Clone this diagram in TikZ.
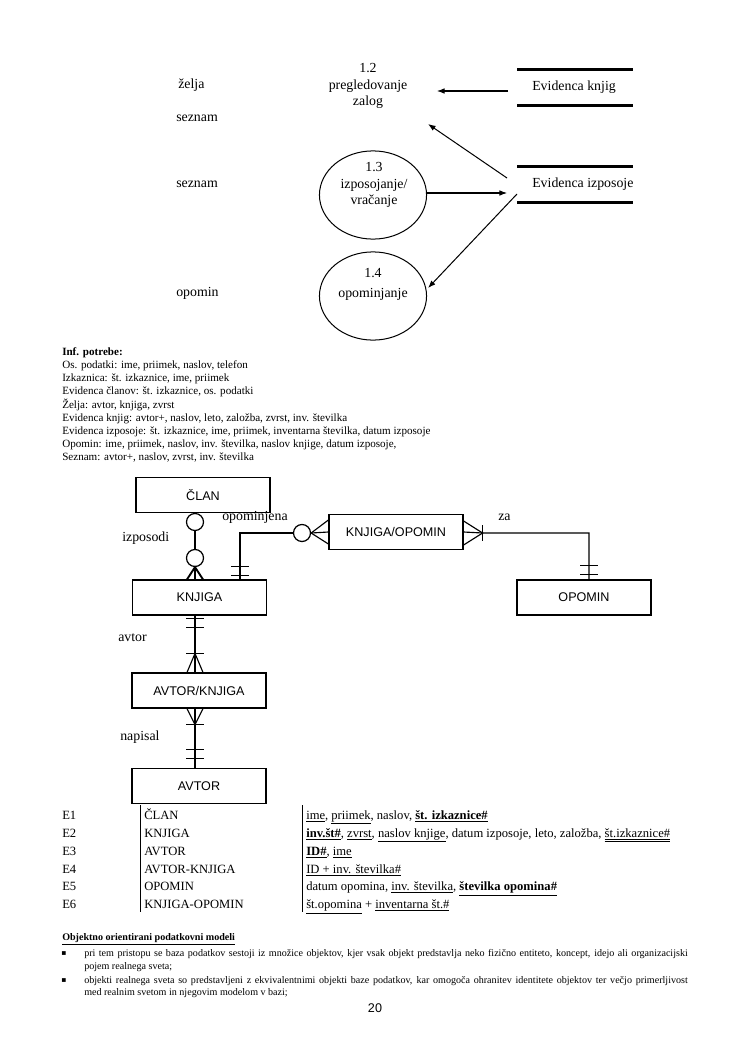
\documentclass[tikz,border=0pt]{standalone}
\usepackage{fontspec}
\setmainfont{Liberation Serif}
\setsansfont{Liberation Sans}
\newfontfamily\symfont{DejaVu Sans}
\usetikzlibrary{shapes.geometric,arrows.meta,calc}

\begin{document}
\begin{tikzpicture}[x=0.7937pt,y=-0.7937pt,
	every node/.style={inner sep=0pt},
	dfd/.style={font=\fontsize{11}{13}\selectfont,align=center},
	lbl/.style={font=\fontsize{11}{13}\selectfont,anchor=base west},
	proc/.style={ellipse,draw,line width=0.8pt,minimum width=85pt,minimum height=70pt},
	store/.style={anchor=west,minimum height=27.8pt,font=\fontsize{11}{13}\selectfont},
	storeline/.style={line width=2.4pt},
	flow/.style={line width=0.8pt,-{Latex[length=6pt,width=4.5pt]}},
	entity/.style={rectangle,draw,line width=0.9pt,minimum width=106.4pt,minimum height=27.8pt,font=\sffamily\fontsize{10}{12}\selectfont},
	optc/.style={circle,draw,line width=1pt,minimum size=13.5pt},
	rel/.style={line width=0.9pt},
	relthick/.style={line width=1.5pt},
	txt/.style={font=\fontsize{8.8}{10.4}\selectfont,anchor=base west},
	tbl/.style={font=\fontsize{10}{12}\selectfont,anchor=base west},
	btxt/.style={font=\fontsize{8}{10}\selectfont,anchor=base west}]

\useasboundingbox (0,0) rectangle (750,1061);

% data flow part
\node[lbl] (zelja) at (178,89) {želja};
\node[lbl] (sez1) at (176,121.5) {seznam};
\node[lbl] (sez2) at (176,187.5) {seznam};
\node[lbl] (opm) at (176,296.5) {opomin};

\node[dfd] (p12) at (368,86) {1.2\\pregledovanje\\zalog};
\node[proc] (p13) at (373,195) {};
\node[dfd] (p13t) at ($(p13)+(1,-10)$) {1.3\\izposojanje/\\vračanje};
\node[proc] (p14) at (373,296) {};
\node[dfd] (p14t) at ($(p14)+(0,-12)$) {1.4\\[3pt]opominjanje};

\node[store] (ek) at (532,87.5) {Evidenca knjig};
\draw[storeline] ($(ek.north west)+(-15,0)$) -- ++(116,0);
\draw[storeline] ($(ek.south west)+(-15,0)$) -- ++(116,0);
\node[store] (ei) at (532,184.5) {Evidenca izposoje};
\draw[storeline] ($(ei.north west)+(-15,0)$) -- ++(116,0);
\draw[storeline] ($(ei.south west)+(-15,0)$) -- ++(116,0);

\draw[flow] ($(ek.west)+(-24,3.5)$) -- ($(p12)+(69,5)$);
\draw[flow] ($(ei.west)+(-25,-6.5)$) -- ($(p12)+(60,38)$);
\draw[flow] ($(p13.east)+(0,-2)$) -- ($(ei.west)+(-25,8.5)$);
\draw[flow] ($(ei.west)+(-15,9.5)$) -- ($(p14.east)+(1,-8)$);

% information needs
\node[txt,align=left] (inf) at (62,460.5) {\textbf{Inf. potrebe:}\\
Os. podatki: ime, priimek, naslov, telefon\\
Izkaznica: št. izkaznice, ime, priimek\\
Evidenca članov: št. izkaznice, os. podatki\\
Želja: avtor, knjiga, zvrst\\
Evidenca knjig: avtor+, naslov, leto, založba, zvrst, inv. številka\\
Evidenca izposoje: št. izkaznice, ime, priimek, inventarna številka, datum izposoje\\
Opomin: ime, priimek, naslov, inv. številka, naslov knjige, datum izposoje,\\
Seznam: avtor+, naslov, zvrst, inv. številka};

% ER part
\node[entity,line width=1.3pt] (clan) at (203,495) {ČLAN};
\node[entity] (knjiga) at (199.5,597.5) {KNJIGA};
\node[entity] (knjop) at (396,532) {KNJIGA/OPOMIN};
\node[entity] (opomin) at (584,597.5) {OPOMIN};
\node[entity] (avknj) at (199,690.5) {AVTOR/KNJIGA};
\node[entity] (avtor) at (199,786) {AVTOR};

\node[optc] (o1) at (195,522) {};
\node[optc] (o2) at (195,558) {};
\node[optc] (o3) at (302,533) {};

\node[lbl] (izp) at (122,541) {izposodi};
\node[lbl] (opj) at (222,520) {opominjena};
\node[lbl] (za) at (498,520) {za};
\node[lbl] (avt) at (118,641) {avtor};
\node[lbl] (nap) at (120,740) {napisal};

% clan - knjiga
\draw[relthick] (o1.north |- clan.south) -- (o1.north);
\draw[relthick] (o1.south) -- (o2.north);
\draw[relthick] (o2.south) -- (o2.south |- knjiga.north);
\draw[relthick] ($(o2.south |- knjiga.north)+(-8,0)$) -- (o2.south) -- ($(o2.south |- knjiga.north)+(8,0)$);

% knjiga - knjiga/opomin - opomin
\coordinate (kk) at ($(knjiga.north)!0.6!(knjiga.north east)$);
\draw[rel] (kk) |- (o3.west);
\draw[rel] ($(kk)+(-9,-13)$) -- ++(18,0);
\draw[rel] ($(kk)+(-9,-4)$) -- ++(18,0);
\draw[rel] ($(knjop.west)+(0,-12)$) -- (o3.east) -- ($(knjop.west)+(0,12)$);
\draw[rel] (o3.east) -- (knjop.west);
\coordinate (kz) at ($(knjop.east)+(19,1)$);
\draw[rel] (knjop.east) -- (kz) -| ($(opomin.north)+(5,0)$);
\draw[rel] ($(knjop.east)+(0,-11)$) -- (kz) -- ($(knjop.east)+(0,13)$);
\draw[rel] ($(kz)+(0,-8)$) -- ++(0,16);
\draw[rel] ($(opomin.north)+(-4,-14)$) -- ++(18,0);
\draw[rel] ($(opomin.north)+(-4,-5)$) -- ++(18,0);

% knjiga - avtor/knjiga - avtor
\draw[relthick] ($(knjiga.south)+(-4.5,0)$) -- ($(avknj.north)+(-4,0)$);
\draw[rel] ($(knjiga.south)+(-13.5,3)$) -- ++(18,0);
\draw[rel] ($(knjiga.south)+(-13.5,12)$) -- ++(18,0);
\draw[rel] ($(avknj.north)+(-13,-19)$) -- ++(18,0);
\draw[rel] ($(avknj.north)+(-12,0)$) -- ($(avknj.north)+(-4,-19)$) -- ($(avknj.north)+(4,0)$);
\draw[relthick] ($(avknj.south)+(-4,0)$) -- ($(avtor.north)+(-4,0)$);
\draw[rel] ($(avknj.south)+(-12,0)$) -- ($(avknj.south)+(-4,16)$) -- ($(avknj.south)+(4,0)$);
\draw[rel] ($(avknj.south)+(-13,16)$) -- ++(18,0);
\draw[rel] ($(avtor.north)+(-13,-18)$) -- ++(18,0);
\draw[rel] ($(avtor.north)+(-13,-9)$) -- ++(18,0);

% entity table
\draw[line width=0.6pt] (140,805) -- (140,912);
\draw[line width=0.6pt] (302,805) -- (302,912);
\node[tbl] (e1) at (62,819) {E1};
\node[tbl] (e2) at (62,837) {E2};
\node[tbl] (e3) at (62,855) {E3};
\node[tbl] (e4) at (62,873) {E4};
\node[tbl] (e5) at (62,890.5) {E5};
\node[tbl] (e6) at (62,908.5) {E6};
\node[tbl] (n1) at (144,819) {ČLAN};
\node[tbl] (n2) at (144,837) {KNJIGA};
\node[tbl] (n3) at (144,855) {AVTOR};
\node[tbl] (n4) at (144,873) {AVTOR-KNJIGA};
\node[tbl] (n5) at (144,890.5) {OPOMIN};
\node[tbl] (n6) at (144,908.5) {KNJIGA-OPOMIN};
\node[tbl] (a1) at (306,819) {\underline{ime}, \underline{priimek}, naslov, \underline{\textbf{št. izkaznice\#}}};
\node[tbl] (a2) at (306,837) {\underline{\textbf{inv.št\#}}, \underline{zvrst}, \underline{naslov knjige}, datum izposoje, leto, založba, \underline{\underline{št.izkaznice\#}}};
\node[tbl] (a3) at (306,855) {\underline{\textbf{ID\#}}, \underline{ime}};
\node[tbl] (a4) at (306,873) {\underline{ID + inv. številka\#}};
\node[tbl] (a5) at (306,890.5) {datum opomina, \underline{inv. številka}, \underline{\textbf{številka opomina\#}}};
\node[tbl] (a6) at (306,908.5) {\underline{št.opomina} + \underline{inventarna št.\#}};

% closing text
\node[btxt,font=\bfseries\fontsize{8}{10}\selectfont] (oo) at (62,940) {\underline{Objektno orientirani podatkovni modeli}};
\node[btxt,font=\symfont\fontsize{6}{8}\selectfont] (bu1) at (61,955) {▪};
\node[btxt] (b1a) at (84,956) {\makebox[479pt][s]{pri tem pristopu se baza podatkov sestoji iz množice objektov, kjer vsak objekt predstavlja neko fizično entiteto, koncept, idejo ali organizacijski}};
\node[btxt] (b1b) at (84,969) {pojem realnega sveta;};
\node[btxt,font=\symfont\fontsize{6}{8}\selectfont] (bu2) at (61,982) {▪};
\node[btxt] (b2a) at (84,983) {\makebox[479pt][s]{objekti realnega sveta so predstavljeni z ekvivalentnimi objekti baze podatkov, kar omogoča ohranitev identitete objektov ter večjo primerljivost}};
\node[btxt] (b2b) at (84,995.5) {med realnim svetom in njegovim modelom v bazi;};
\node[font=\sffamily\fontsize{10}{12}\selectfont] (pg) at (375,1008) {20};
\end{tikzpicture}
\end{document}
